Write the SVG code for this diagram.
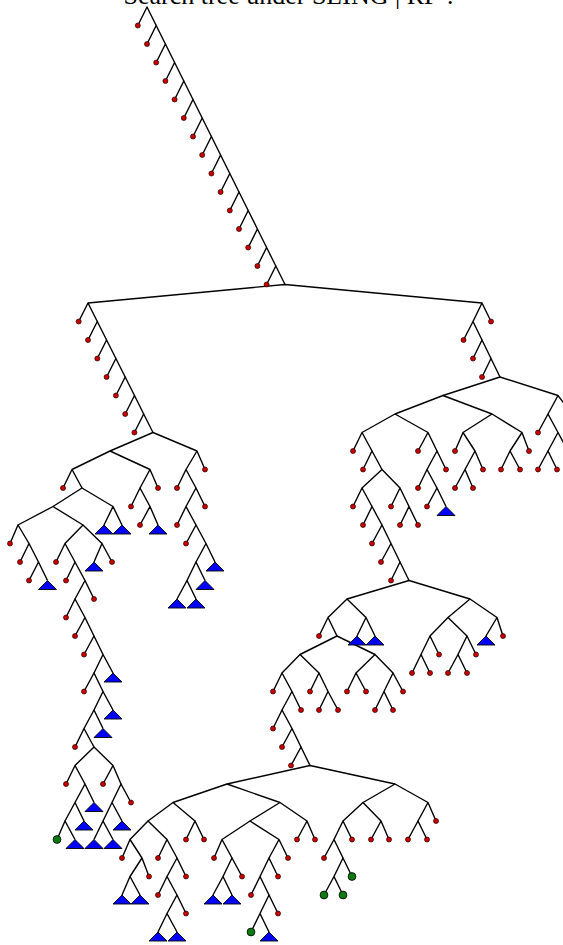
<svg xmlns="http://www.w3.org/2000/svg" xmlns:xlink="http://www.w3.org/1999/xlink" width="563" height="945" viewBox="0 0 563 945">
<style>
.e{fill:none;stroke:#000;stroke-width:1.4;stroke-linejoin:round}
.r{fill:#c80000;stroke:#200;stroke-width:0.7}
.g{fill:#0f7a0f;stroke:#000;stroke-width:0.8}
.t{fill:#0000ff;stroke:#000;stroke-width:0.9;stroke-linejoin:miter}
.title{font-family:"Liberation Serif","DejaVu Serif",serif;font-size:26px;fill:#000}
</style>
<defs>
<circle id="rd" r="2.5" class="r"/>
<circle id="gd" r="3.9" class="g"/>
<path id="tr" d="M0,0 L9,9 L-9,9 Z" class="t"/>
</defs>
<rect width="563" height="945" fill="#fff"/>
<text class="title" x="290" y="4" text-anchor="middle">Search tree under SLING | RF ?</text>
<g id="connectors" class="e">
<path d="M137.8,25.5 L147,7 L156.2,25.5"/>
<path d="M147,44 L156.2,25.5 L165.4,44"/>
<path d="M156.2,62.5 L165.4,44 L174.6,62.5"/>
<path d="M165.4,81 L174.6,62.5 L183.8,81"/>
<path d="M174.6,99.5 L183.8,81 L193,99.5"/>
<path d="M183.8,118 L193,99.5 L202.2,118"/>
<path d="M193,136.5 L202.2,118 L211.4,136.5"/>
<path d="M202.2,155 L211.4,136.5 L220.6,155"/>
<path d="M211.4,173.5 L220.6,155 L229.8,173.5"/>
<path d="M220.6,192 L229.8,173.5 L239,192"/>
<path d="M229.8,210.5 L239,192 L248.2,210.5"/>
<path d="M239,229 L248.2,210.5 L257.4,229"/>
<path d="M248.2,247.5 L257.4,229 L266.6,247.5"/>
<path d="M257.4,266 L266.6,247.5 L275.8,266"/>
<path d="M266.6,284.5 L275.8,266 L285,284.5"/>
<path d="M88,303 L285,284.5 L482,303"/>
<path d="M78.7,321.5 L88,303 L97.3,321.5"/>
<path d="M88,340 L97.3,321.5 L106.6,340"/>
<path d="M97.3,358.5 L106.6,340 L115.9,358.5"/>
<path d="M106.6,377 L115.9,358.5 L125.2,377"/>
<path d="M115.9,395.5 L125.2,377 L134.5,395.5"/>
<path d="M125.2,414 L134.5,395.5 L143.7,414"/>
<path d="M134.4,432.5 L143.7,414 L153,432.5"/>
<path d="M110,451 L153,432.5 L197,451"/>
<path d="M72,469.5 L110,451 L150,469.5"/>
<path d="M63,488 L72,469.5 L82,488"/>
<path d="M53,506.5 L82,488 L113,506.5"/>
<path d="M18,525 L53,506.5 L83,525"/>
<path d="M10,543.5 L18,525 L29,543.5"/>
<path d="M20,562 L29,543.5 L38.5,562"/>
<path d="M29,580.5 L38.5,562 L47.5,580.5"/>
<path d="M65,543.5 L83,525 L102,543.5"/>
<path d="M56,562 L65,543.5 L75,562"/>
<path d="M66,580.5 L75,562 L85,580.5"/>
<path d="M75,599 L85,580.5 L94,599"/>
<path d="M66,617.5 L75,599 L85,617.5"/>
<path d="M75,636 L85,617.5 L94,636"/>
<path d="M84,654.5 L94,636 L103,654.5"/>
<path d="M94,673 L103,654.5 L113,673"/>
<path d="M84,691.5 L94,673 L103,691.5"/>
<path d="M94,710 L103,691.5 L113,710"/>
<path d="M84,728.5 L94,710 L103,728.5"/>
<path d="M75,747 L84,728.5 L94,747"/>
<path d="M75,765.5 L94,747 L113,765.5"/>
<path d="M66,784 L75,765.5 L85,784"/>
<path d="M75,802.5 L85,784 L94,802.5"/>
<path d="M65,821 L75,802.5 L84,821"/>
<path d="M57,839.5 L65,821 L75,839.5"/>
<path d="M103,784 L113,765.5 L121,784"/>
<path d="M112,802.5 L121,784 L131,802.5"/>
<path d="M103,821 L112,802.5 L122,821"/>
<path d="M94,839.5 L103,821 L113,839.5"/>
<path d="M94,562 L102,543.5 L112,562"/>
<path d="M104,525 L113,506.5 L122,525"/>
<path d="M140,488 L150,469.5 L158,488"/>
<path d="M131,506.5 L140,488 L150,506.5"/>
<path d="M140,525 L150,506.5 L158,525"/>
<path d="M186,469.5 L197,451 L205,469.5"/>
<path d="M177,488 L186,469.5 L196,488"/>
<path d="M186,506.5 L196,488 L205,506.5"/>
<path d="M177,525 L186,506.5 L196,525"/>
<path d="M186,543.5 L196,525 L206,543.5"/>
<path d="M196,562 L206,543.5 L215,562"/>
<path d="M187,580.5 L196,562 L205,580.5"/>
<path d="M177,599 L187,580.5 L196,599"/>
<path d="M473,321.5 L482,303 L491,321.5"/>
<path d="M463.5,340 L473,321.5 L482,340"/>
<path d="M473,358.5 L482,340 L491,358.5"/>
<path d="M482,377 L491,358.5 L500,377"/>
<path d="M443,395.5 L500,377 L558,395.5"/>
<path d="M395,414 L443,395.5 L492,414"/>
<path d="M362,432.5 L395,414 L428,432.5"/>
<path d="M353,451 L362,432.5 L372,451"/>
<path d="M363,469.5 L372,451 L382,469.5"/>
<path d="M362,488 L382,469.5 L400,488"/>
<path d="M353,506.5 L362,488 L372,506.5"/>
<path d="M363,525 L372,506.5 L382,525"/>
<path d="M372,543.5 L382,525 L391,543.5"/>
<path d="M381,562 L391,543.5 L400,562"/>
<path d="M391,580.5 L400,562 L409,580.5"/>
<path d="M391,506.5 L400,488 L409,506.5"/>
<path d="M400,525 L409,506.5 L418,525"/>
<path d="M418,451 L428,432.5 L437,451"/>
<path d="M427,469.5 L437,451 L446,469.5"/>
<path d="M418,488 L427,469.5 L437,488"/>
<path d="M427,506.5 L437,488 L446,506.5"/>
<path d="M463,432.5 L492,414 L522,432.5"/>
<path d="M455,451 L463,432.5 L475,451"/>
<path d="M465,469.5 L475,451 L483,469.5"/>
<path d="M455,488 L465,469.5 L473,488"/>
<path d="M510,451 L522,432.5 L529,451"/>
<path d="M501,469.5 L510,451 L520,469.5"/>
<path d="M548,414 L558,395.5 L572,414"/>
<path d="M538,432.5 L548,414 L558,432.5"/>
<path d="M548,451 L558,432.5 L568,451"/>
<path d="M538,469.5 L548,451 L557,469.5"/>
<path d="M347,599 L409,580.5 L470,599"/>
<path d="M328,617.5 L347,599 L366,617.5"/>
<path d="M319,636 L328,617.5 L337,636"/>
<path d="M357,636 L366,617.5 L375,636"/>
<path d="M300,654.5 L337,636 L375,654.5"/>
<path d="M282,673 L300,654.5 L319,673"/>
<path d="M273,691.5 L282,673 L292,691.5"/>
<path d="M282,710 L292,691.5 L301,710"/>
<path d="M273,728.5 L282,710 L292,728.5"/>
<path d="M282,747 L292,728.5 L301,747"/>
<path d="M291,765.5 L301,747 L310,765.5"/>
<path d="M310,691.5 L319,673 L328,691.5"/>
<path d="M319,710 L328,691.5 L338,710"/>
<path d="M356,673 L375,654.5 L393,673"/>
<path d="M347,691.5 L356,673 L366,691.5"/>
<path d="M384,691.5 L393,673 L403,691.5"/>
<path d="M375,710 L384,691.5 L393,710"/>
<path d="M448,617.5 L470,599 L497,617.5"/>
<path d="M430,636 L448,617.5 L467,636"/>
<path d="M421,654.5 L430,636 L439,654.5"/>
<path d="M412,673 L421,654.5 L430,673"/>
<path d="M458,654.5 L467,636 L476,654.5"/>
<path d="M448,673 L458,654.5 L467,673"/>
<path d="M486,636 L497,617.5 L503,636"/>
<path d="M227,784 L310,765.5 L395,784"/>
<path d="M173,802.5 L227,784 L280,802.5"/>
<path d="M148,821 L173,802.5 L195,821"/>
<path d="M130,839.5 L148,821 L167,839.5"/>
<path d="M122,858 L130,839.5 L142,858"/>
<path d="M130,876.5 L142,858 L149,876.5"/>
<path d="M122,895 L130,876.5 L140,895"/>
<path d="M158,858 L167,839.5 L177,858"/>
<path d="M167,876.5 L177,858 L186,876.5"/>
<path d="M158,895 L167,876.5 L177,895"/>
<path d="M167,913.5 L177,895 L186,913.5"/>
<path d="M158,932 L167,913.5 L177,932"/>
<path d="M186,839.5 L195,821 L204,839.5"/>
<path d="M250,821 L280,802.5 L307,821"/>
<path d="M222,839.5 L250,821 L279,839.5"/>
<path d="M214,858 L222,839.5 L232,858"/>
<path d="M223,876.5 L232,858 L242,876.5"/>
<path d="M213,895 L223,876.5 L232,895"/>
<path d="M269,858 L279,839.5 L288,858"/>
<path d="M260,876.5 L269,858 L278,876.5"/>
<path d="M251,895 L260,876.5 L269,895"/>
<path d="M260,913.5 L269,895 L278,913.5"/>
<path d="M251,932 L260,913.5 L269,932"/>
<path d="M297,839.5 L307,821 L315,839.5"/>
<path d="M363,802.5 L395,784 L428,802.5"/>
<path d="M343,821 L363,802.5 L381,821"/>
<path d="M334,839.5 L343,821 L352,839.5"/>
<path d="M324,858 L334,839.5 L343,858"/>
<path d="M334,876.5 L343,858 L352,876.5"/>
<path d="M324,895 L334,876.5 L343,895"/>
<path d="M371,839.5 L381,821 L389,839.5"/>
<path d="M418,821 L428,802.5 L436,821"/>
<path d="M408,839.5 L418,821 L427,839.5"/>
</g>
<g id="leaves">
<g id="m1"><use href="#rd" x="137.8" y="25.5"/></g>
<g id="m2"><use href="#rd" x="147" y="44"/></g>
<g id="m3"><use href="#rd" x="156.2" y="62.5"/></g>
<g id="m4"><use href="#rd" x="165.4" y="81"/></g>
<g id="m5"><use href="#rd" x="174.6" y="99.5"/></g>
<g id="m6"><use href="#rd" x="183.8" y="118"/></g>
<g id="m7"><use href="#rd" x="193" y="136.5"/></g>
<g id="m8"><use href="#rd" x="202.2" y="155"/></g>
<g id="m9"><use href="#rd" x="211.4" y="173.5"/></g>
<g id="m10"><use href="#rd" x="220.6" y="192"/></g>
<g id="m11"><use href="#rd" x="229.8" y="210.5"/></g>
<g id="m12"><use href="#rd" x="239" y="229"/></g>
<g id="m13"><use href="#rd" x="248.2" y="247.5"/></g>
<g id="m14"><use href="#rd" x="257.4" y="266"/></g>
<g id="m15"><use href="#rd" x="266.6" y="284.5"/></g>
<g id="l1"><use href="#rd" x="78.7" y="321.5"/></g>
<g id="l2"><use href="#rd" x="88" y="340"/></g>
<g id="l3"><use href="#rd" x="97.3" y="358.5"/></g>
<g id="l4"><use href="#rd" x="106.6" y="377"/></g>
<g id="l5"><use href="#rd" x="115.9" y="395.5"/></g>
<g id="l6"><use href="#rd" x="125.2" y="414"/></g>
<g id="l7"><use href="#rd" x="134.4" y="432.5"/></g>
<g id="l8"><use href="#rd" x="63" y="488"/></g>
<g id="l9"><use href="#rd" x="10" y="543.5"/></g>
<g id="l10"><use href="#rd" x="20" y="562"/></g>
<g id="l11"><use href="#rd" x="29" y="580.5"/></g>
<g id="l12"><use href="#tr" x="47.5" y="580.5"/></g>
<g id="l13"><use href="#rd" x="56" y="562"/></g>
<g id="l14"><use href="#rd" x="66" y="580.5"/></g>
<g id="l15"><use href="#rd" x="94" y="599"/></g>
<g id="l16"><use href="#rd" x="66" y="617.5"/></g>
<g id="l17"><use href="#rd" x="75" y="636"/></g>
<g id="l18"><use href="#rd" x="84" y="654.5"/></g>
<g id="l19"><use href="#tr" x="113" y="673"/></g>
<g id="l20"><use href="#rd" x="84" y="691.5"/></g>
<g id="l21"><use href="#tr" x="113" y="710"/></g>
<g id="l22"><use href="#tr" x="103" y="728.5"/></g>
<g id="l23"><use href="#rd" x="75" y="747"/></g>
<g id="l24"><use href="#rd" x="66" y="784"/></g>
<g id="l25"><use href="#tr" x="94" y="802.5"/></g>
<g id="l26"><use href="#tr" x="84" y="821"/></g>
<g id="l27"><use href="#gd" x="57" y="839.5"/></g>
<g id="l28"><use href="#tr" x="75" y="839.5"/></g>
<g id="l29"><use href="#rd" x="103" y="784"/></g>
<g id="l30"><use href="#rd" x="131" y="802.5"/></g>
<g id="l31"><use href="#tr" x="122" y="821"/></g>
<g id="l32"><use href="#tr" x="94" y="839.5"/></g>
<g id="l33"><use href="#tr" x="113" y="839.5"/></g>
<g id="l34"><use href="#tr" x="94" y="562"/></g>
<g id="l35"><use href="#rd" x="112" y="562"/></g>
<g id="l36"><use href="#tr" x="104" y="525"/></g>
<g id="l37"><use href="#tr" x="122" y="525"/></g>
<g id="l38"><use href="#rd" x="158" y="488"/></g>
<g id="l39"><use href="#rd" x="131" y="506.5"/></g>
<g id="l40"><use href="#rd" x="140" y="525"/></g>
<g id="l41"><use href="#tr" x="158" y="525"/></g>
<g id="l42"><use href="#rd" x="205" y="469.5"/></g>
<g id="l43"><use href="#rd" x="177" y="488"/></g>
<g id="l44"><use href="#rd" x="205" y="506.5"/></g>
<g id="l45"><use href="#rd" x="177" y="525"/></g>
<g id="l46"><use href="#rd" x="186" y="543.5"/></g>
<g id="l47"><use href="#tr" x="215" y="562"/></g>
<g id="l48"><use href="#tr" x="205" y="580.5"/></g>
<g id="l49"><use href="#tr" x="177" y="599"/></g>
<g id="l50"><use href="#tr" x="196" y="599"/></g>
<g id="r1"><use href="#rd" x="491" y="321.5"/></g>
<g id="r2"><use href="#rd" x="463.5" y="340"/></g>
<g id="r3"><use href="#rd" x="473" y="358.5"/></g>
<g id="r4"><use href="#rd" x="482" y="377"/></g>
<g id="r5"><use href="#rd" x="353" y="451"/></g>
<g id="r6"><use href="#rd" x="363" y="469.5"/></g>
<g id="r7"><use href="#rd" x="353" y="506.5"/></g>
<g id="r8"><use href="#rd" x="363" y="525"/></g>
<g id="r9"><use href="#rd" x="372" y="543.5"/></g>
<g id="r10"><use href="#rd" x="381" y="562"/></g>
<g id="r11"><use href="#rd" x="391" y="580.5"/></g>
<g id="r12"><use href="#rd" x="391" y="506.5"/></g>
<g id="r13"><use href="#rd" x="400" y="525"/></g>
<g id="r14"><use href="#rd" x="418" y="525"/></g>
<g id="r15"><use href="#rd" x="418" y="451"/></g>
<g id="r16"><use href="#rd" x="446" y="469.5"/></g>
<g id="r17"><use href="#rd" x="418" y="488"/></g>
<g id="r18"><use href="#rd" x="427" y="506.5"/></g>
<g id="r19"><use href="#tr" x="446" y="506.5"/></g>
<g id="r20"><use href="#rd" x="455" y="451"/></g>
<g id="r21"><use href="#rd" x="483" y="469.5"/></g>
<g id="r22"><use href="#rd" x="455" y="488"/></g>
<g id="r23"><use href="#rd" x="473" y="488"/></g>
<g id="r24"><use href="#rd" x="529" y="451"/></g>
<g id="r25"><use href="#rd" x="501" y="469.5"/></g>
<g id="r26"><use href="#rd" x="520" y="469.5"/></g>
<g id="r27"><use href="#rd" x="538" y="432.5"/></g>
<g id="r28"><use href="#rd" x="538" y="469.5"/></g>
<g id="r29"><use href="#rd" x="557" y="469.5"/></g>
<g id="c1"><use href="#rd" x="319" y="636"/></g>
<g id="c2"><use href="#tr" x="357" y="636"/></g>
<g id="c3"><use href="#tr" x="375" y="636"/></g>
<g id="c4"><use href="#rd" x="273" y="691.5"/></g>
<g id="c5"><use href="#rd" x="301" y="710"/></g>
<g id="c6"><use href="#rd" x="273" y="728.5"/></g>
<g id="c7"><use href="#rd" x="282" y="747"/></g>
<g id="c8"><use href="#rd" x="291" y="765.5"/></g>
<g id="c9"><use href="#rd" x="310" y="691.5"/></g>
<g id="c10"><use href="#rd" x="319" y="710"/></g>
<g id="c11"><use href="#rd" x="338" y="710"/></g>
<g id="c12"><use href="#rd" x="347" y="691.5"/></g>
<g id="c13"><use href="#rd" x="366" y="691.5"/></g>
<g id="c14"><use href="#rd" x="403" y="691.5"/></g>
<g id="c15"><use href="#rd" x="375" y="710"/></g>
<g id="c16"><use href="#rd" x="393" y="710"/></g>
<g id="c17"><use href="#rd" x="439" y="654.5"/></g>
<g id="c18"><use href="#rd" x="412" y="673"/></g>
<g id="c19"><use href="#rd" x="430" y="673"/></g>
<g id="c20"><use href="#rd" x="476" y="654.5"/></g>
<g id="c21"><use href="#rd" x="448" y="673"/></g>
<g id="c22"><use href="#rd" x="467" y="673"/></g>
<g id="c23"><use href="#tr" x="486" y="636"/></g>
<g id="c24"><use href="#rd" x="503" y="636"/></g>
<g id="b1"><use href="#rd" x="122" y="858"/></g>
<g id="b2"><use href="#rd" x="149" y="876.5"/></g>
<g id="b3"><use href="#tr" x="122" y="895"/></g>
<g id="b4"><use href="#tr" x="140" y="895"/></g>
<g id="b5"><use href="#rd" x="158" y="858"/></g>
<g id="b6"><use href="#rd" x="186" y="876.5"/></g>
<g id="b7"><use href="#rd" x="158" y="895"/></g>
<g id="b8"><use href="#rd" x="186" y="913.5"/></g>
<g id="b9"><use href="#tr" x="158" y="932"/></g>
<g id="b10"><use href="#tr" x="177" y="932"/></g>
<g id="b11"><use href="#rd" x="186" y="839.5"/></g>
<g id="b12"><use href="#rd" x="204" y="839.5"/></g>
<g id="b13"><use href="#rd" x="214" y="858"/></g>
<g id="b14"><use href="#rd" x="242" y="876.5"/></g>
<g id="b15"><use href="#tr" x="213" y="895"/></g>
<g id="b16"><use href="#tr" x="232" y="895"/></g>
<g id="b17"><use href="#rd" x="288" y="858"/></g>
<g id="b18"><use href="#rd" x="278" y="876.5"/></g>
<g id="b19"><use href="#rd" x="251" y="895"/></g>
<g id="b20"><use href="#rd" x="278" y="913.5"/></g>
<g id="b21"><use href="#gd" x="251" y="932"/></g>
<g id="b22"><use href="#tr" x="269" y="932"/></g>
<g id="b23"><use href="#rd" x="297" y="839.5"/></g>
<g id="b24"><use href="#rd" x="315" y="839.5"/></g>
<g id="b25"><use href="#rd" x="352" y="839.5"/></g>
<g id="b26"><use href="#rd" x="324" y="858"/></g>
<g id="b27"><use href="#gd" x="352" y="876.5"/></g>
<g id="b28"><use href="#gd" x="324" y="895"/></g>
<g id="b29"><use href="#gd" x="343" y="895"/></g>
<g id="b30"><use href="#rd" x="371" y="839.5"/></g>
<g id="b31"><use href="#rd" x="389" y="839.5"/></g>
<g id="b32"><use href="#rd" x="436" y="821"/></g>
<g id="b33"><use href="#rd" x="408" y="839.5"/></g>
<g id="b34"><use href="#rd" x="427" y="839.5"/></g>
</g>
</svg>
